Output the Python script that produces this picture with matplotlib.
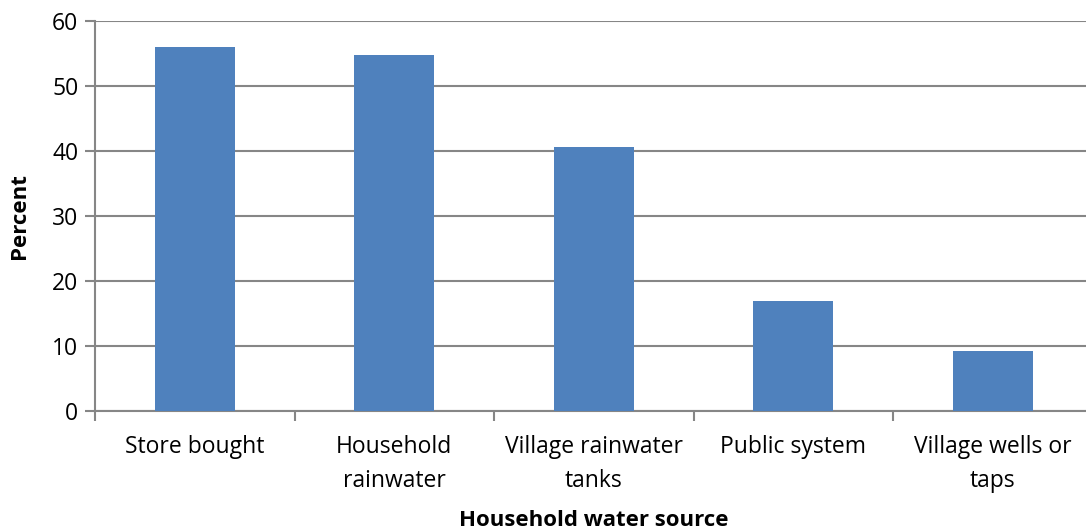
import numpy as np
import matplotlib.pyplot as plt

# household water source survey, percent of respondents
sources = ["Store bought", "Household\nrainwater", "Village rainwater\ntanks",
           "Public system", "Village wells or\ntaps"]
percent = [56.0, 54.7, 40.6, 17.0, 9.3]
yticks = [0, 10, 20, 30, 40, 50, 60]

plt.rcParams['font.family'] = ['Open Sans', 'DejaVu Sans']

fig = plt.figure(figsize=(10.86, 5.31), dpi=100)
ax = fig.add_axes([95/1086, 120/531, 997.5/1086, 390/531])

x = np.arange(len(sources))
ax.bar(x, percent, width=0.4, color='#4F81BD', zorder=3)

ax.set_xlim(-0.5, len(sources) - 0.5)
ax.set_ylim(0, 60)
ax.set_yticks(yticks)
ax.set_xticks(x)
ax.set_xticklabels(sources, fontsize=16.5, linespacing=1.6)
ax.set_xticks(np.arange(len(sources) + 1) - 0.5, minor=True)
ax.tick_params(axis='x', which='major', length=0, pad=17)
ax.tick_params(axis='x', which='minor', length=7, width=1.5, color='#868686', direction='out')
ax.tick_params(axis='y', labelsize=16.5, length=7, width=1.5, color='#868686', pad=5)

ax.grid(axis='y', color='#868686', linewidth=1.5, zorder=0)
for side in ['top', 'right']:
    ax.spines[side].set_visible(False)
for side in ['left', 'bottom']:
    ax.spines[side].set_color('#868686')
    ax.spines[side].set_linewidth(1.5)

ax.set_ylabel('Percent', fontsize=16, fontweight='bold')
ax.yaxis.set_label_coords((30 - 95) / 997.5, 0.5)
ax.set_xlabel('Household water source', fontsize=16, fontweight='bold')
ax.xaxis.set_label_coords((594 - 95) / 997.5, -(510 - 411) / 390)

fig.savefig('out.png', dpi=100)
